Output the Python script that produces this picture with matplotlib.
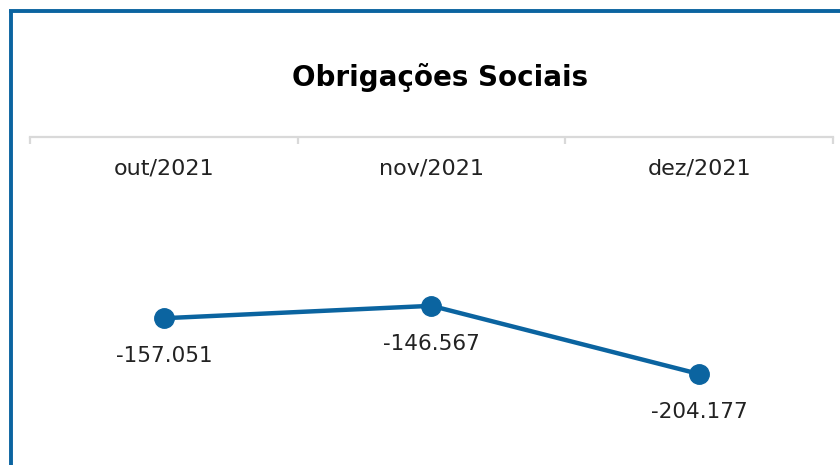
import matplotlib.pyplot as plt
from matplotlib.lines import Line2D

# data
months = ["out/2021", "nov/2021", "dez/2021"]
values = [-157.051, -146.567, -204.177]
value_labels = ["-157.051", "-146.567", "-204.177"]

blue = "#0b64a0"
grid_gray = "#d9d9d9"

W, H = 840, 465
fig = plt.figure(figsize=(W / 100, H / 100), dpi=100)

# axes: spine at top (y=137px), from x=30 to x=833
left, right = 30 / W, 833 / W
top, bottom = 1 - 137 / H, 0.0
ax = fig.add_axes([left, bottom, right - left, top - bottom])

x = list(range(len(months)))
ax.plot(x, values, color=blue, lw=3.2, marker="o", markersize=14,
        solid_capstyle="round", zorder=3)

for xi, v, lab in zip(x, values, value_labels):
    ax.annotate(lab, (xi, v), xytext=(0, -27.5), textcoords="offset points",
                ha="center", va="center", fontsize=15.5, color="#222222")

ax.set_xlim(-0.5, len(months) - 0.5)
ax.set_ylim(-281, -4)
ax.set_yticks([])
ax.set_xticks([])
for s in ["left", "right", "bottom"]:
    ax.spines[s].set_visible(False)
ax.spines["top"].set_color(grid_gray)
ax.spines["top"].set_linewidth(1.6)

# tick marks between categories, pointing down from the axis line
for b in [-0.5, 0.5, 1.5, 2.5]:
    ax.plot([b, b], [-4, -10], color=grid_gray, lw=1.6, clip_on=False,
            solid_capstyle="butt")

# category labels under the axis line
for xi, m in zip(x, months):
    ax.text(xi, 1 - 31 / 328, m, transform=ax.get_xaxis_transform(),
            ha="center", va="center", fontsize=16, color="#222222")

fig.text(440 / W, 1 - 78 / H, "Obrigações Sociais", ha="center", va="center",
         fontsize=20, fontweight="bold", color="black")

# blue frame (left and top edges)
fig.add_artist(Line2D([10.5 / W, 10.5 / W], [0, 1 - 11 / H], color=blue,
                      lw=2.8, transform=fig.transFigure, solid_capstyle="butt"))
fig.add_artist(Line2D([9.1 / W, 1], [1 - 11.5 / H, 1 - 11.5 / H], color=blue,
                      lw=2.8, transform=fig.transFigure, solid_capstyle="butt"))

fig.savefig("out.png", dpi=100)
